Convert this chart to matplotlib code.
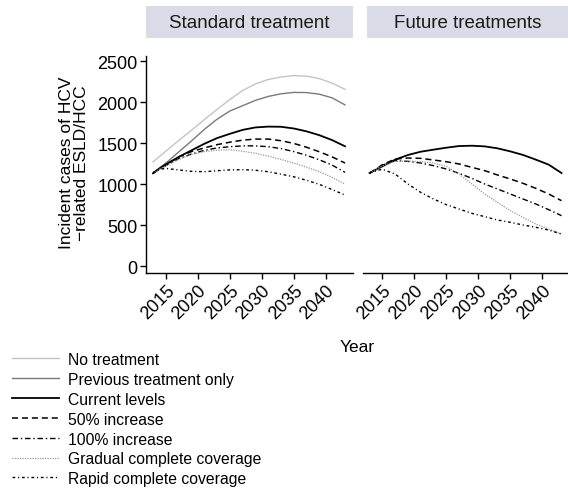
import matplotlib
matplotlib.use("Agg")
import matplotlib.pyplot as plt
from matplotlib.patches import Rectangle
from matplotlib.lines import Line2D
import numpy as np

plt.rcParams['font.family'] = ['Liberation Sans', 'DejaVu Sans']

years = [2013, 2014, 2015, 2017, 2019, 2021, 2023, 2025, 2027, 2029,
         2031, 2033, 2035, 2037, 2039, 2041, 2043]

scenarios = ["No treatment", "Previous treatment only", "Current levels",
             "50% increase", "100% increase", "Gradual complete coverage",
             "Rapid complete coverage"]

# Standard treatment panel
std_no_treatment = [1270, 1335, 1400, 1530, 1655, 1785, 1910, 2030, 2140, 2220,
                    2275, 2305, 2322, 2315, 2285, 2230, 2155]
std_previous = [1130, 1195, 1255, 1390, 1525, 1665, 1790, 1890, 1955, 2020,
                2068, 2100, 2117, 2115, 2095, 2050, 1965]
std_current = [1130, 1190, 1240, 1330, 1410, 1490, 1560, 1612, 1660, 1690,
               1700, 1698, 1677, 1642, 1595, 1535, 1460]
std_50 = [1135, 1185, 1230, 1330, 1395, 1440, 1480, 1510, 1535, 1548,
          1548, 1528, 1495, 1448, 1393, 1330, 1256]
std_100 = [1135, 1182, 1225, 1310, 1365, 1410, 1440, 1455, 1465, 1465,
           1455, 1432, 1395, 1350, 1295, 1230, 1142]
std_gradual = [1135, 1180, 1220, 1300, 1360, 1395, 1412, 1418, 1400, 1375,
               1340, 1300, 1255, 1205, 1150, 1080, 1000]
std_rapid = [1135, 1180, 1190, 1172, 1155, 1150, 1162, 1172, 1175, 1168,
             1150, 1120, 1088, 1045, 995, 932, 866]

# Future treatments panel
fut_current = [1134, 1175, 1215, 1297, 1354, 1394, 1419, 1443, 1463, 1467,
               1459, 1435, 1398, 1354, 1297, 1236, 1134]
fut_50 = [1134, 1180, 1235, 1305, 1317, 1313, 1293, 1272, 1244, 1203,
          1163, 1110, 1061, 1008, 947, 878, 797]
fut_100 = [1134, 1180, 1230, 1285, 1276, 1256, 1224, 1183, 1130, 1069,
           1000, 939, 878, 817, 756, 687, 614]
fut_gradual = [1134, 1180, 1220, 1276, 1280, 1272, 1256, 1215, 1122, 1000,
               878, 776, 675, 593, 512, 451, 390]
fut_rapid = [1134, 1160, 1180, 1122, 1000, 898, 817, 748, 695, 642,
             602, 561, 533, 500, 472, 439, 390]

panel_titles = ["Standard treatment", "Future treatments"]
y_ticks = [0, 500, 1000, 1500, 2000, 2500]
x_ticks = [2015, 2020, 2025, 2030, 2035, 2040]

styles = {
    "No treatment": dict(color="#c4c4c4", lw=1.0, ls="-"),
    "Previous treatment only": dict(color="#7a7a7a", lw=1.0, ls="-"),
    "Current levels": dict(color="black", lw=1.3, ls="-"),
    "50% increase": dict(color="black", lw=1.1, ls=(0, (4, 2.5))),
    "100% increase": dict(color="black", lw=1.0, ls=(0, (4, 2, 1, 2))),
    "Gradual complete coverage": dict(color="#9a9a9a", lw=0.9, ls=(0, (1, 1))),
    "Rapid complete coverage": dict(color="black", lw=1.0, ls=(0, (2, 2, 0.8, 2))),
}

std_series = dict(zip(scenarios, [std_no_treatment, std_previous, std_current,
                                  std_50, std_100, std_gradual, std_rapid]))
fut_series = dict(zip(scenarios[2:], [fut_current, fut_50, fut_100,
                                      fut_gradual, fut_rapid]))

W, H = 568, 489
fig = plt.figure(figsize=(W / 100, H / 100), dpi=100)

def fx(px):
    return px / W

def fy(py):
    return 1 - py / H

ax_top, ax_bot = 57, 274
axL = fig.add_axes([fx(146), fy(ax_bot), fx(206.7), (ax_bot - ax_top) / H])
axR = fig.add_axes([fx(362.5), fy(ax_bot), fx(206.7), (ax_bot - ax_top) / H])

xs = np.array(years)
for ax, series in ((axL, std_series), (axR, fut_series)):
    for name, vals in series.items():
        ax.plot(xs, vals, label=name, **styles[name])
    ax.set_xlim(2011.9, 2044.2)
    ax.set_ylim(-85, 2561)
    ax.set_xticks(x_ticks)
    ax.set_xticklabels([str(t) for t in x_ticks], rotation=45,
                       ha="right", va="top", rotation_mode="anchor",
                       fontsize=13)
    for s in ("top", "right"):
        ax.spines[s].set_visible(False)
    ax.spines["bottom"].set_linewidth(1.0)
    ax.spines["left"].set_linewidth(1.0)
    ax.tick_params(axis="both", length=4, width=1.0, pad=2, labelsize=13,
                   color="black", labelcolor="black")
    ax.set_facecolor("white")

axL.set_yticks(y_ticks)
axL.set_yticklabels([str(t) for t in y_ticks])
axR.spines["left"].set_visible(False)
axR.set_yticks([])

# facet strips
for (x0, x1), title in zip(((146, 352.7), (366.7, 568)), panel_titles):
    fig.patches.append(Rectangle((fx(x0), fy(39)), fx(x1 - x0), (39 - 7) / H,
                                 transform=fig.transFigure, facecolor="#d9dce6",
                                 edgecolor="none", zorder=0))
    fig.text(fx((x0 + x1) / 2), fy(23), title, ha="center", va="center",
             fontsize=13.5, color="#1a1a1a")

fig.text(fx(74), fy(163), "Incident cases of HCV\n\u2212related ESLD/HCC",
         rotation=90, ha="center", va="center", fontsize=12.5,
         linespacing=1.05)
fig.text(fx(357), fy(348), "Year", ha="center", va="center", fontsize=12.5)

# legend drawn below the panels
row0, row_step = 359.0, 19.9
for i, name in enumerate(scenarios):
    yrow = fy(row0 + i * row_step)
    fig.add_artist(Line2D([fx(11.5), fx(58.5)], [yrow, yrow],
                          transform=fig.transFigure, **styles[name]))
    fig.text(fx(68.5), yrow, name, ha="left", va="center_baseline",
             fontsize=11.3)

fig.savefig("out.png", dpi=100)
